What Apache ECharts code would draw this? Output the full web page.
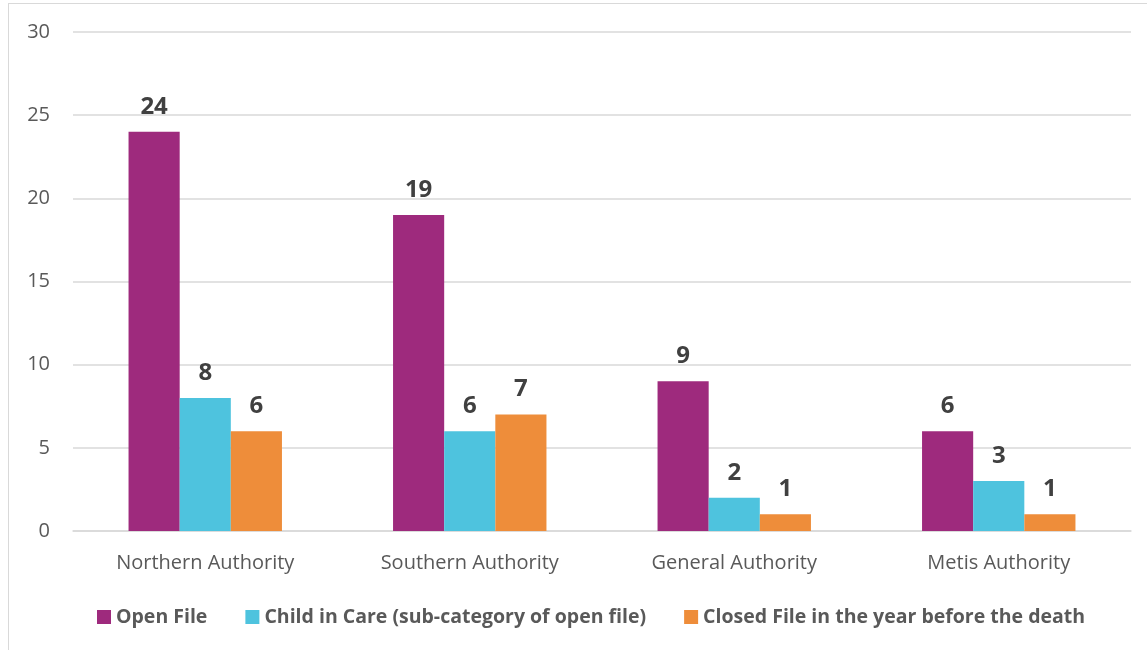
<!DOCTYPE html>
<html>
<head>
<meta charset="utf-8">
<script src="https://cdn.jsdelivr.net/npm/echarts@6/dist/echarts.min.js"></script>
<style>
  html, body { margin: 0; padding: 0; background: #fff; }
  #frame { position: absolute; left: 8px; top: 3px; width: 1150px; height: 660px; border: 1px solid #d9d9d9; box-sizing: border-box; }
  #chart { width: 1147px; height: 650px; position: absolute; left: 0; top: 0; }
</style>
</head>
<body>
<div id="frame"></div>
<div id="chart"></div>
<script>
const categories = ['Northern Authority', 'Southern Authority', 'General Authority', 'Metis Authority'];
const seriesNames = ['Open File', 'Child in Care (sub-category of open file)', 'Closed File in the year before the death'];
const openFile = [24, 19, 9, 6];
const childInCare = [8, 6, 2, 3];
const closedFile = [6, 7, 1, 1];
const colors = ['#9e2a7d', '#4ec3de', '#ee8d3a'];

const font = '"Open Sans", "Liberation Sans", sans-serif';
const chart = echarts.init(document.getElementById('chart'));

function barSeries(name, data, color) {
  return {
    name: name,
    type: 'bar',
    data: data,
    barGap: '0%',
    barCategoryGap: '42%',
    itemStyle: { color: color },
    label: {
      show: true,
      position: 'top',
      distance: 13,
      fontFamily: font,
      fontWeight: 'bold',
      fontSize: 24,
      color: '#404040'
    }
  };
}

chart.setOption({
  animation: false,
  color: colors,
  grid: { left: 73, right: 16, top: 32, bottom: 119 },
  legend: {
    bottom: 18,
    left: 92,
    itemWidth: 14,
    itemHeight: 14,
    itemGap: 38,
    icon: 'rect',
    textStyle: { fontFamily: font, fontSize: 19.5, fontWeight: 'bold', color: '#595959' },
    data: seriesNames
  },
  xAxis: {
    type: 'category',
    data: categories,
    axisLine: { lineStyle: { color: '#d9d9d9', width: 1.5 } },
    axisTick: { show: false },
    axisLabel: { fontFamily: font, fontSize: 20, color: '#595959', margin: 22 }
  },
  yAxis: {
    type: 'value',
    min: 0,
    max: 30,
    interval: 5,
    axisLine: { show: false },
    axisTick: { show: false },
    splitLine: { lineStyle: { color: '#d9d9d9', width: 1.5 } },
    axisLabel: { fontFamily: font, fontSize: 20, color: '#595959', margin: 23 }
  },
  series: [
    barSeries(seriesNames[0], openFile, colors[0]),
    barSeries(seriesNames[1], childInCare, colors[1]),
    barSeries(seriesNames[2], closedFile, colors[2])
  ]
});
</script>
</body>
</html>
